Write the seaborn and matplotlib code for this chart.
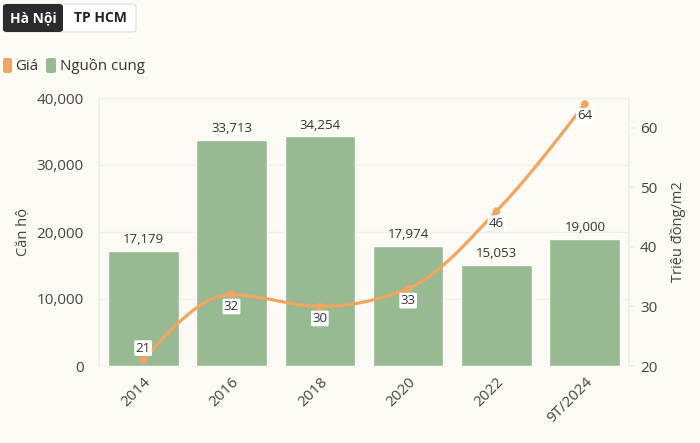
import numpy as np
import pandas as pd
import matplotlib
matplotlib.use("Agg")
import matplotlib.pyplot as plt
import seaborn as sns
from matplotlib.patches import FancyBboxPatch

years = ["2014", "2016", "2018", "2020", "2022", "9T/2024"]
supply = [17179, 33713, 34254, 17974, 15053, 19000]
price = [21, 32, 30, 33, 46, 64]

BG = "#FDFBF6"
GREEN = "#97BA93"
ORANGE = "#F2A55F"
GRID = "#ECEFEA"
TXT = "#444444"


def monotone_x(x, y, n=40):
    # d3 curveMonotoneX style interpolation, used only for drawing the line
    x = np.asarray(x, float)
    y = np.asarray(y, float)
    h = np.diff(x)
    s = np.diff(y) / h
    m = np.zeros_like(y)
    for i in range(1, len(y) - 1):
        p = (s[i - 1] * h[i] + s[i] * h[i - 1]) / (h[i - 1] + h[i])
        m[i] = (np.sign(s[i - 1]) + np.sign(s[i])) * min(abs(s[i - 1]), abs(s[i]), 0.5 * abs(p))
    m[0] = (3 * s[0] - m[1]) / 2
    m[-1] = (3 * s[-1] - m[-2]) / 2
    xs, ys = [], []
    for i in range(len(h)):
        t = np.linspace(0, 1, n)
        h00 = 2 * t**3 - 3 * t**2 + 1
        h10 = t**3 - 2 * t**2 + t
        h01 = -2 * t**3 + 3 * t**2
        h11 = t**3 - t**2
        xs.append(x[i] + t * h[i])
        ys.append(h00 * y[i] + h10 * h[i] * m[i] + h01 * y[i + 1] + h11 * h[i] * m[i + 1])
    return np.concatenate(xs), np.concatenate(ys)


sns.set_theme(style="white")
plt.rcParams["font.family"] = ["Open Sans", "DejaVu Sans"]

df = pd.DataFrame({"year": years, "supply": supply, "price": price})

fig = plt.figure(figsize=(7, 4.43), dpi=100, facecolor=BG)
ax = fig.add_axes([99 / 700, 1 - 366 / 443, 530 / 700, 268 / 443])
ax.set_facecolor(BG)

sns.barplot(data=df, x="year", y="supply", color=GREEN, saturation=1, width=0.8, ax=ax, zorder=2)
ax.set_ylim(0, 40000)
ax.set_xlim(-0.5, len(years) - 0.5)
ax.set_yticks(range(0, 40001, 10000))
ax.set_yticklabels([f"{v:,}" for v in range(0, 40001, 10000)], fontsize=11, color=TXT)
ax.yaxis.grid(True, color=GRID, lw=1, zorder=0)
ax.set_axisbelow(True)
ax.tick_params(axis="y", length=0, pad=11)
ax.tick_params(axis="x", length=0, pad=6)
ax.set_xticks(range(len(years)))
ax.set_xticklabels(years, rotation=45, ha="right", va="top", rotation_mode="anchor", fontsize=11, color=TXT)
ax.set_xlabel("")
ax.set_ylabel("Căn hộ", fontsize=10.5, color=TXT, labelpad=4)
for sp in ax.spines.values():
    sp.set_visible(False)
ax.spines["left"].set_visible(True)
ax.spines["left"].set_color(GRID)

for i, v in enumerate(supply):
    ax.text(i, v + 700, f"{v:,}", ha="center", va="bottom", fontsize=9.5, color="#333333", zorder=5)

ax2 = ax.twinx()
ax2.set_ylim(20, 65)
ax2.set_yticks([20, 30, 40, 50, 60])
ax2.set_yticklabels(["20", "30", "40", "50", "60"], fontsize=11, color=TXT)
ax2.tick_params(axis="y", length=4, color=GRID, pad=4)
for sp in ax2.spines.values():
    sp.set_visible(False)
ax2.spines["right"].set_visible(True)
ax2.spines["right"].set_color(GRID)
ax2.set_ylabel("Triệu đồng/m2", fontsize=10.5, color=TXT, labelpad=9)

cx, cy = monotone_x(np.arange(len(price)), price)
ax2.plot(cx, cy, color=ORANGE, lw=2.3, solid_capstyle="round", zorder=3)
sns.scatterplot(x=np.arange(len(price)), y=price, color=ORANGE, s=30, edgecolor="none", ax=ax2, zorder=4)
ax2.set_xlim(-0.5, len(years) - 0.5)

for i, v in enumerate(price):
    dy = 12 if i == 0 else -12
    ax2.annotate(str(v), (i, v), xytext=(0, dy), textcoords="offset pixels",
                 ha="center", va="center", fontsize=9.5, color="#333333", zorder=6,
                 bbox=dict(boxstyle="round,pad=0.1", fc="white", ec="none"))

# tab buttons
fig.patches.append(FancyBboxPatch((3 / 700, 1 - 32 / 443), 133 / 700, 28 / 443,
                                  boxstyle="round,pad=0,rounding_size=0.006", transform=fig.transFigure,
                                  fc="white", ec="#DDDDDD", lw=0.8))
fig.patches.append(FancyBboxPatch((3 / 700, 1 - 32 / 443), 60 / 700, 28 / 443,
                                  boxstyle="round,pad=0,rounding_size=0.006", transform=fig.transFigure,
                                  fc="#2B2B2B", ec="none"))
fig.text(33 / 700, 1 - 18 / 443, "Hà Nội", ha="center", va="center", fontsize=10, weight="bold", color="white")
fig.text(100 / 700, 1 - 18 / 443, "TP HCM", ha="center", va="center", fontsize=10, weight="bold", color="#222222")

# legend
fig.patches.append(FancyBboxPatch((3 / 700, 1 - 73 / 443), 9 / 700, 15 / 443,
                                  boxstyle="round,pad=0,rounding_size=0.004", transform=fig.transFigure,
                                  fc=ORANGE, ec="none"))
fig.text(15 / 700, 1 - 66 / 443, "Giá", ha="left", va="center", fontsize=10.8, color="#333333")
fig.patches.append(FancyBboxPatch((46 / 700, 1 - 73 / 443), 10 / 700, 15 / 443,
                                  boxstyle="round,pad=0,rounding_size=0.004", transform=fig.transFigure,
                                  fc=GREEN, ec="none"))
fig.text(60 / 700, 1 - 66 / 443, "Nguồn cung", ha="left", va="center", fontsize=10.8, color="#333333")

fig.savefig("out.png", dpi=100, facecolor=BG)
